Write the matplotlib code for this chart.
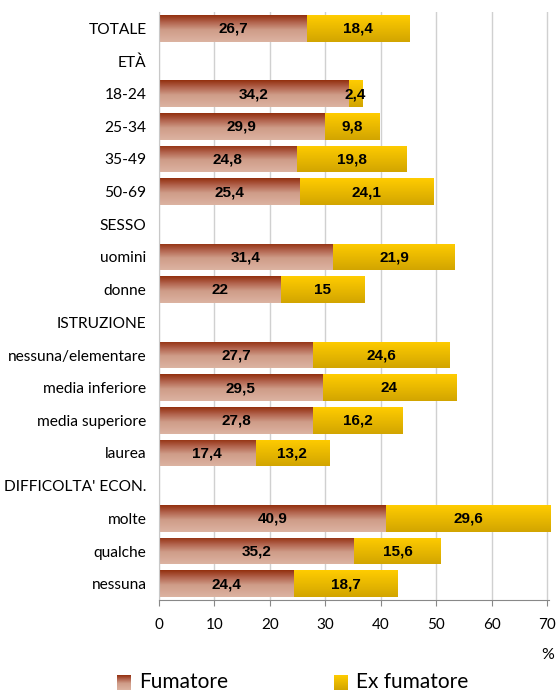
import matplotlib
matplotlib.use('Agg')
import matplotlib.pyplot as plt
import numpy as np
from matplotlib.colors import LinearSegmentedColormap

labels = ['TOTALE', 'ETÀ', '18-24', '25-34', '35-49', '50-69', 'SESSO',
          'uomini', 'donne', 'ISTRUZIONE', 'nessuna/elementare',
          'media inferiore', 'media superiore', 'laurea',
          "DIFFICOLTA' ECON.", 'molte', 'qualche', 'nessuna']
fumatore = [26.7, None, 34.2, 29.9, 24.8, 25.4, None, 31.4, 22, None,
            27.7, 29.5, 27.8, 17.4, None, 40.9, 35.2, 24.4]
ex_fumatore = [18.4, None, 2.4, 9.8, 19.8, 24.1, None, 21.9, 15, None,
               24.6, 24, 16.2, 13.2, None, 29.6, 15.6, 18.7]
xticks = [0, 10, 20, 30, 40, 50, 60, 70]

# gradients: index 0 = bottom of the bar
cm_fum = LinearSegmentedColormap.from_list(
    'fum', [(0, '#dcb3a1'), (0.45, '#cf9c88'), (0.75, '#b0604a'), (1, '#93300f')])
cm_ex = LinearSegmentedColormap.from_list(
    'ex', [(0, '#d2a500'), (1, '#ffcc00')])
grad = np.linspace(0, 1, 64).reshape(-1, 1)

def fmt(v):
    s = ('%g' % v)
    return s.replace('.', ',')

fig = plt.figure(figsize=(5.59, 6.91), dpi=100)
ax = fig.add_axes([159 / 559, 91 / 691, 390 / 559, 588 / 691])

n = len(labels)
ypos = np.arange(n)[::-1]
h = 0.82

for i, lab in enumerate(labels):
    y = ypos[i]
    f = fumatore[i]
    e = ex_fumatore[i]
    if f is None:
        continue
    for left, w, cmap in [(0, f, cm_fum), (f, e, cm_ex)]:
        bar = ax.barh(y, w, left=left, height=h, color='none', linewidth=0)[0]
        im = ax.imshow(grad, cmap=cmap, origin='lower', aspect='auto',
                       extent=[left, left + w, y - h / 2, y + h / 2],
                       interpolation='bilinear', zorder=2)
        im.set_clip_path(bar)
        ax.text(left + w / 2, y - 0.02, fmt(w), ha='center', va='center',
                fontsize=11, fontweight='bold', family='Liberation Sans',
                color='black', zorder=3)

ax.set_xlim(0, 70.3)
ax.set_ylim(-0.5, n - 0.5)
ax.set_xticks(xticks)
ax.set_xticklabels([str(t) for t in xticks], family='Lato', fontsize=11)
ax.tick_params(axis='x', length=4, color='#888888', pad=9)
ax.set_yticks(ypos)
ax.set_yticklabels(labels, family='Lato', fontsize=11.2)
ax.tick_params(axis='y', length=0, pad=9)
for t in xticks:
    ax.axvline(t, color='#d0d0d0', lw=1, zorder=0)
for s in ['top', 'right']:
    ax.spines[s].set_visible(False)
ax.spines['left'].set_color('#c8c8c8')
ax.spines['bottom'].set_color('#888888')

fig.text(548 / 559, 1 - 655 / 691, '%', ha='center', va='center',
         family='Lato', fontsize=11.5)

# legend with gradient squares
for x0, tx, cmap, txt in [(117, 139, cm_fum, 'Fumatore'),
                          (334, 356, cm_ex, 'Ex fumatore')]:
    lax = fig.add_axes([x0 / 559, 1 - 690 / 691, 14 / 559, 15 / 691])
    lax.imshow(grad, cmap=cmap, origin='lower', aspect='auto',
               interpolation='bilinear')
    lax.axis('off')
    fig.text(tx / 559, 1 - 688 / 691, txt, ha='left', va='baseline',
             family='Lato', fontsize=15)

fig.savefig('out.png', dpi=100)
